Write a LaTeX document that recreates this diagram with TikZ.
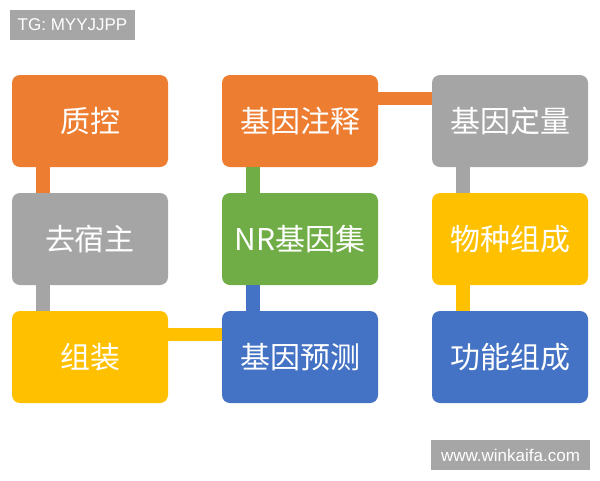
\documentclass[tikz,border=0pt]{standalone}
\usepackage{fontspec}
\setmainfont{Liberation Sans}
\newfontfamily\cjk{Noto Sans CJK SC}
\definecolor{corange}{HTML}{ED7D31}
\definecolor{cgray}{HTML}{A5A5A5}
\definecolor{cyellow}{HTML}{FFC000}
\definecolor{cblue}{HTML}{4472C4}
\definecolor{cgreen}{HTML}{70AD47}
\definecolor{tagbg}{HTML}{A6A6A6}
\begin{document}
\begin{tikzpicture}[x=1pt,y=-1pt,
  stepbox/.style={rectangle, rounded corners=8pt, minimum width=156pt, minimum height=92pt,
    inner sep=0pt, text=white, font=\cjk\fontsize{30}{32}\selectfont},
  tagbox/.style={rectangle, fill=tagbg, text=white, inner sep=0pt, font=\fontsize{17}{19}\selectfont},
  bar/.style={line width=14pt},
  hbar/.style={line width=13pt}]
\useasboundingbox (0,0) rectangle (600,480);
\fill[white] (0,0) rectangle (600,480);

\node[tagbox, minimum width=125pt, minimum height=30pt] (tg) at (72.5,25) {TG: MYYJJPP};
\node[tagbox, minimum width=159pt, minimum height=30pt] (web) at (510.5,455) {www.winkaifa.com};

\node[stepbox, fill=corange] (qc) at (90,121) {};
\node[stepbox, fill=cgray] (host) at (90,239) {};
\node[stepbox, fill=cyellow] (asm) at (90,357) {};
\node[stepbox, fill=corange] (anno) at (300,121) {};
\node[stepbox, fill=cgreen] (nr) at (300,239) {};
\node[stepbox, fill=cblue] (pred) at (300,357) {};
\node[stepbox, fill=cgray] (quant) at (510,121) {};
\node[stepbox, fill=cyellow] (spec) at (510,239) {};
\node[stepbox, fill=cblue] (func) at (510,357) {};

\draw[bar, corange] ([xshift=31pt]qc.south west) -- ([xshift=31pt]host.north west);
\draw[bar, cgray] ([xshift=31pt]host.south west) -- ([xshift=31pt]asm.north west);
\draw[hbar, cyellow] ([yshift=-23.5pt]asm.north east) -- ([yshift=-23.5pt]pred.north west);
\draw[bar, cblue] ([xshift=31pt]pred.north west) -- ([xshift=31pt]nr.south west);
\draw[bar, cgreen] ([xshift=31pt]nr.north west) -- ([xshift=31pt]anno.south west);
\draw[hbar, corange] ([yshift=-23.5pt]anno.north east) -- ([yshift=-23.5pt]quant.north west);
\draw[bar, cgray] ([xshift=31pt]quant.south west) -- ([xshift=31pt]spec.north west);
\draw[bar, cyellow] ([xshift=31pt]spec.south west) -- ([xshift=31pt]func.north west);

\node[stepbox] at (qc) {质控};
\node[stepbox] at (host) {去宿主};
\node[stepbox] at (asm) {组装};
\node[stepbox] at (anno) {基因注释};
\node[stepbox] at (nr) {NR基因集};
\node[stepbox] at (pred) {基因预测};
\node[stepbox] at (quant) {基因定量};
\node[stepbox] at (spec) {物种组成};
\node[stepbox] at (func) {功能组成};
\end{tikzpicture}
\end{document}
